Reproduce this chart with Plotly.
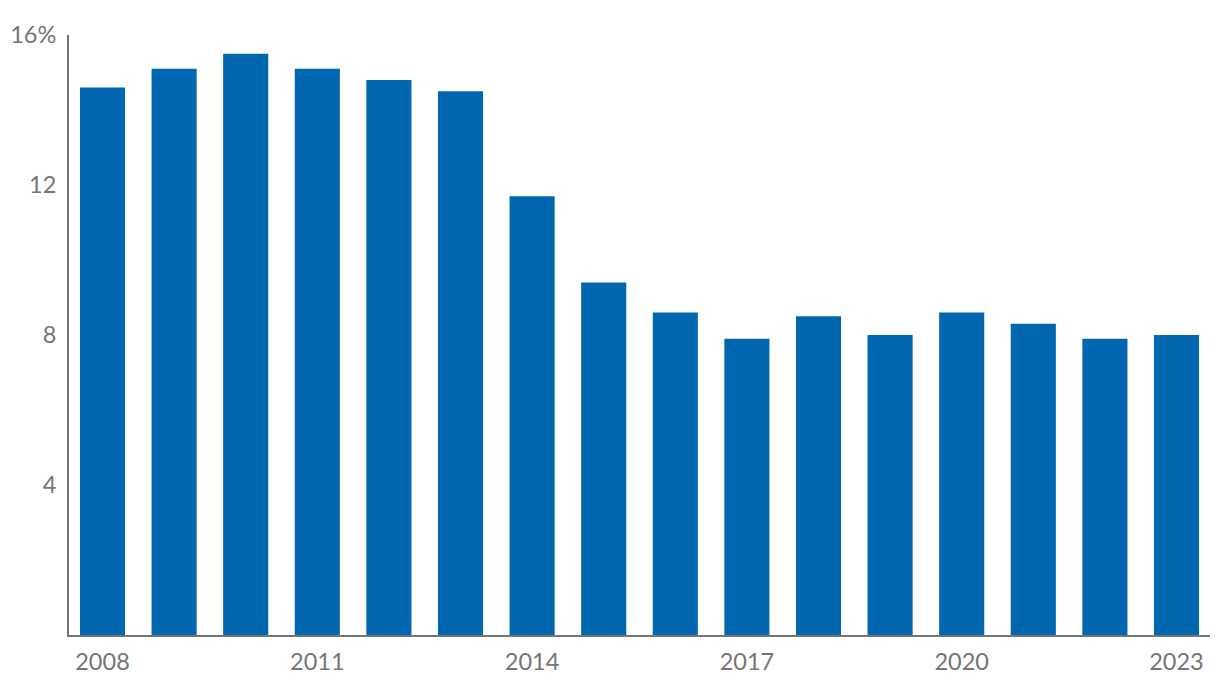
import plotly.graph_objects as go

years = list(range(2008, 2024))
values = [14.6, 15.1, 15.5, 15.1, 14.8, 14.5, 11.7, 9.4, 8.6, 7.9, 8.5, 8.0, 8.6, 8.3, 7.9, 8.0]
y_tickvals = [4, 8, 12, 16]
y_ticktext = ["4", "8", "12", "16%"]
x_tickvals = [2008, 2011, 2014, 2017, 2020, 2023]
x_ticktext = ["2008", "2011", "2014", "2017", "2020", "2023"]

GRAY = "#757575"
FONT = "Lato, 'Open Sans', sans-serif"
FS = 23.5

fig = go.Figure(go.Bar(x=years, y=values, marker_color="#0067b0", marker_line_width=0, width=0.63))

fig.update_layout(
    width=1220, height=696,
    margin=dict(l=69, r=10, t=35, b=61, autoexpand=False),
    plot_bgcolor="white", paper_bgcolor="white",
    showlegend=False,
    font=dict(family=FONT, size=FS, color=GRAY),
)
fig.update_xaxes(
    range=[2007.532, 2023.468],
    tickvals=x_tickvals, ticktext=x_ticktext,
    showline=True, linecolor=GRAY, linewidth=2,
    showgrid=False, ticks="outside", ticklen=5, tickcolor="rgba(0,0,0,0)",
    tickfont=dict(family=FONT, size=FS, color=GRAY),
    automargin=False,
)
fig.update_yaxes(
    range=[0, 16],
    tickvals=y_tickvals, ticktext=y_ticktext,
    showline=True, linecolor=GRAY, linewidth=2,
    showgrid=False, zeroline=False, ticks="outside", ticklen=6, tickcolor="rgba(0,0,0,0)",
    tickfont=dict(family=FONT, size=FS, color=GRAY),
    automargin=False,
)

fig.write_html("out.html")
